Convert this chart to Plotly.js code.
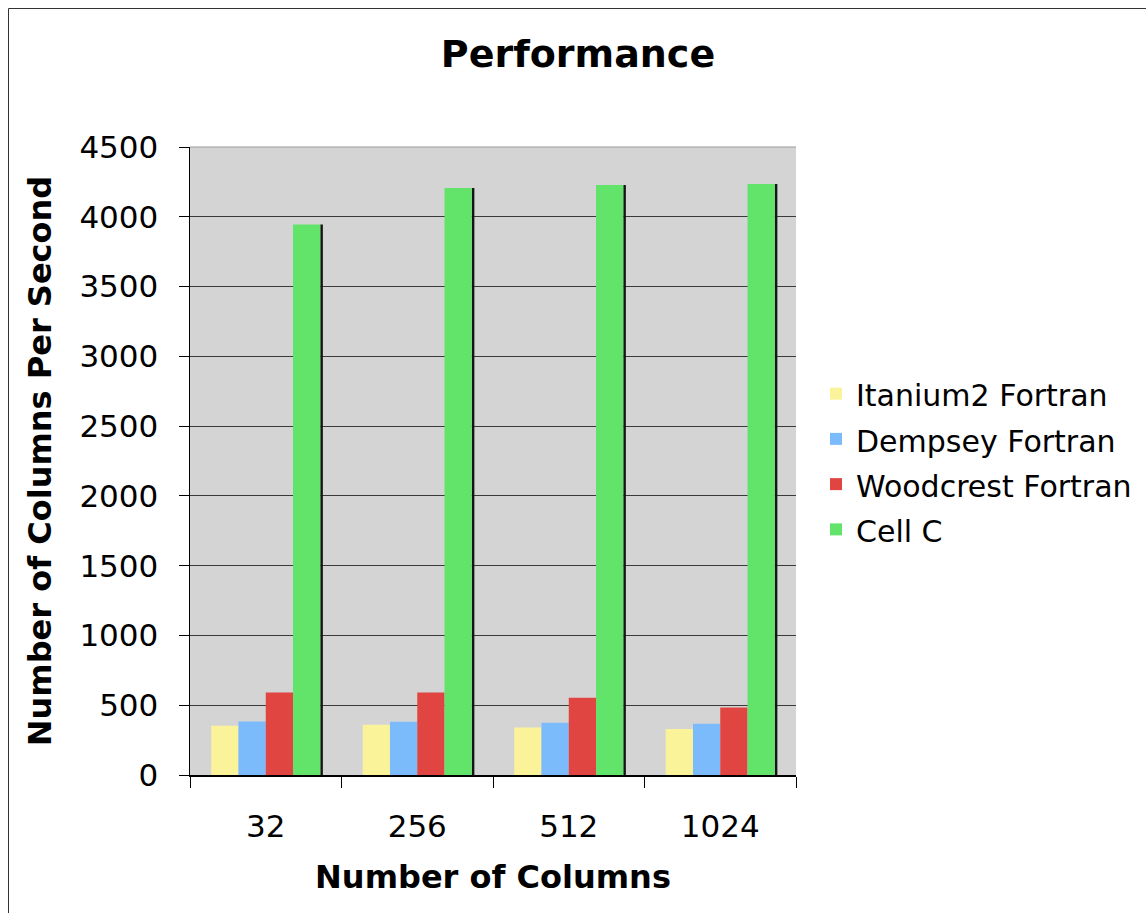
<!DOCTYPE html>
<html>
<head>
<meta charset="utf-8">
<script src="https://cdn.plot.ly/plotly-3.0.1.min.js"></script>
<style>
  html, body { margin: 0; padding: 0; background: #ffffff; }
  #chart { width: 1146px; height: 913px; }
</style>
</head>
<body>
<div id="chart"></div>
<script>
// ---- Data ----
const categories = ["32", "256", "512", "1024"];
const seriesNames = ["Itanium2 Fortran", "Dempsey Fortran", "Woodcrest Fortran", "Cell C"];
const itanium2Fortran = [353, 360, 341, 329];
const dempseyFortran = [384, 382, 374, 367];
const woodcrestFortran = [591, 591, 553, 484];
const cellC = [3944, 4206, 4228, 4235];
const yTicks = [0, 500, 1000, 1500, 2000, 2500, 3000, 3500, 4000, 4500];

// ---- Styling ----
const colors = ["#FAF39A", "#7BBAFB", "#E04541", "#62E36A"];
const FONT = "DejaVu Sans, Verdana, sans-serif";
const barWidth = 0.18;
const offsets = [-0.36, -0.18, 0, 0.18];

const seriesValues = [itanium2Fortran, dempseyFortran, woodcrestFortran, cellC];

const traces = [];
// drop shadow on the right of the tallest series
traces.push({
  type: "bar",
  x: categories,
  y: cellC,
  width: 0.017,
  offset: 0.36,
  marker: { color: "#151515", line: { width: 0 } },
  showlegend: false,
  hoverinfo: "skip"
});
seriesValues.forEach((vals, i) => {
  traces.push({
    type: "bar",
    name: '<span style="font-size:30px">' + seriesNames[i] + '</span>',
    x: categories,
    y: vals,
    width: barWidth,
    offset: offsets[i],
    marker: { color: colors[i], line: { width: 0 } }
  });
});

const plotL = 190, plotR = 796, plotT = 147, plotB = 775;
const W = 1146, H = 913;
const pw = plotR - plotL, ph = plotB - plotT;
const px2x = p => (p - plotL) / pw;
const py2y = p => (plotB - p) / ph;

const layout = {
  width: W,
  height: H,
  margin: { l: plotL, r: W - plotR, t: plotT, b: H - plotB, pad: 0, autoexpand: false },
  paper_bgcolor: "#ffffff",
  plot_bgcolor: "#D4D4D4",
  barmode: "overlay",
  font: { family: FONT, color: "#000000" },
  title: {
    text: "<b>Performance</b>",
    font: { family: FONT, size: 38, color: "#000000" },
    x: 578 / W, xref: "container", xanchor: "center",
    y: 1 - 54 / H, yref: "container", yanchor: "middle"
  },
  xaxis: {
    type: "category",
    categoryorder: "array",
    categoryarray: categories,
    range: [-0.5, 3.5],
    tickson: "boundaries",
    ticks: "outside",
    ticklen: 11,
    tickwidth: 1,
    tickcolor: "#000000",
    ticklabelstandoff: 23,
    tickfont: { family: FONT, size: 31, color: "#000000" },
    showgrid: false,
    showline: true,
    linecolor: "#000000",
    linewidth: 2,
    zeroline: false,
    automargin: false,
    fixedrange: true,
    title: {
      text: "<b>Number of Columns</b>",
      font: { family: FONT, size: 32, color: "#000000" },
      standoff: 22
    }
  },
  yaxis: {
    range: [0, 4500],
    tickmode: "array",
    tickvals: yTicks,
    ticktext: yTicks.map(String),
    ticks: "outside",
    ticklen: 10,
    tickwidth: 1,
    tickcolor: "#000000",
    ticklabelstandoff: 14,
    tickfont: { family: FONT, size: 31, color: "#000000" },
    showgrid: true,
    gridcolor: "#3a3a3a",
    gridwidth: 1.2,
    showline: true,
    linecolor: "#000000",
    linewidth: 1.5,
    zeroline: false,
    automargin: false,
    fixedrange: true,
    title: {
      text: "<b>Number of Columns Per Second</b>",
      font: { family: FONT, size: 32, color: "#000000" },
      standoff: 18
    }
  },
  legend: {
    x: 816 / W, xref: "container", xanchor: "left",
    y: py2y(366), yref: "paper", yanchor: "top",
    bgcolor: "rgba(0,0,0,0)",
    borderwidth: 0,
    font: { family: FONT, size: 32.5, color: "#000000" },
    traceorder: "normal",
    itemwidth: 30
  },
  shapes: [
    // light top edge of the plotting area
    { type: "line", xref: "paper", yref: "paper", x0: 0, x1: 1, y0: 1, y1: 1,
      line: { color: "#9a9a9a", width: 1 } },
    // frame around the chart (left and top edges)
    { type: "line", xref: "paper", yref: "paper",
      x0: px2x(8.5), x1: px2x(8.5), y0: py2y(8.5), y1: py2y(H + 5),
      line: { color: "#333333", width: 1 } },
    { type: "line", xref: "paper", yref: "paper",
      x0: px2x(8.5), x1: px2x(W + 5), y0: py2y(8.5), y1: py2y(8.5),
      line: { color: "#333333", width: 1 } }
  ],
  showlegend: true
};

Plotly.newPlot("chart", traces, layout, { displayModeBar: false, staticPlot: true });
</script>
</body>
</html>
